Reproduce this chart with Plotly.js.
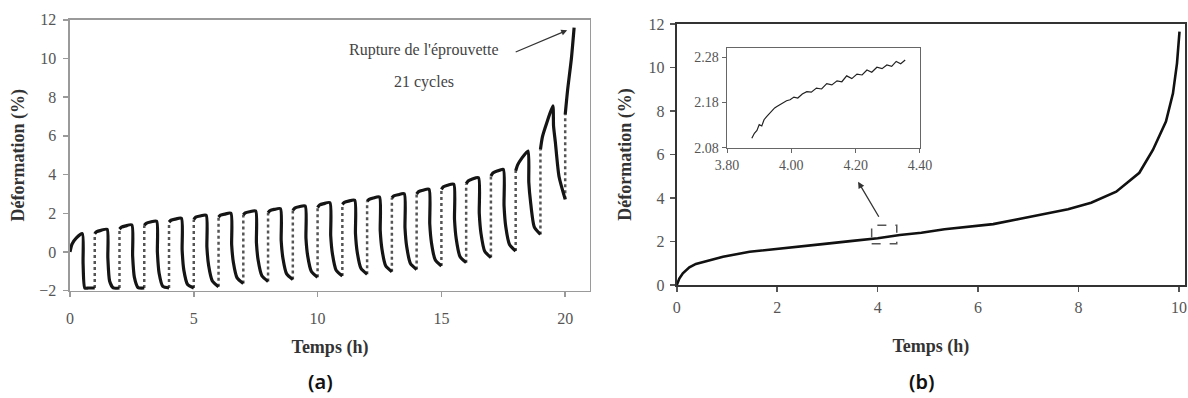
<!DOCTYPE html>
<html>
<head>
<meta charset="utf-8">
<script src="https://cdn.plot.ly/plotly-3.0.1.min.js"></script>
<style>html,body{margin:0;padding:0;background:#fff;}#chart{width:1188px;height:398px;}</style>
</head>
<body>
<div id="chart"></div>
<script>
// ---------- Panel (a): cyclic creep, 21 cycles ----------
// value right after the instantaneous load jump at t = k
const cycleLoadStart = [0.00, 0.95, 1.18, 1.38, 1.54, 1.68, 1.80, 1.92, 2.03, 2.15, 2.30, 2.46, 2.62, 2.80, 3.00, 3.24, 3.52, 3.93, 4.19, 5.30, 7.10];
// value shortly after loading (t = k + 0.08)
const cycleLoadA = [0.40, 1.05, 1.28, 1.48, 1.64, 1.80, 1.90, 2.02, 2.14, 2.27, 2.43, 2.56, 2.72, 2.90, 3.12, 3.37, 3.67, 4.08, 4.50, 5.95, 8.40];
// value mid-load (t = k + 0.25)
const cycleLoadB = [0.72, 1.12, 1.35, 1.55, 1.70, 1.86, 1.96, 2.08, 2.20, 2.34, 2.50, 2.63, 2.79, 2.96, 3.19, 3.45, 3.77, 4.18, 4.85, 6.65, 10.00];
// value at the end of loading (peak)
const cyclePeak = [0.95, 1.17, 1.40, 1.59, 1.74, 1.90, 2.00, 2.12, 2.24, 2.38, 2.55, 2.67, 2.84, 3.01, 3.24, 3.50, 3.84, 4.27, 5.22, 7.55, 11.60];
// unloading (recovery) readings, cycles 0..19
const cycleDropA = [-0.60, -0.30, -0.20, 0.00, 0.10, 0.25, 0.37, 0.48, 0.59, 0.72, 0.84, 0.95, 1.10, 1.25, 1.46, 1.68, 2.00, 2.40, 3.60, 6.50];
const cycleDropB = [-1.86, -1.50, -1.30, -1.10, -0.95, -0.70, -0.54, -0.43, -0.32, -0.20, -0.10, 0.00, 0.14, 0.27, 0.47, 0.67, 0.95, 1.30, 2.60, 5.70];
const cycleDropC = [-1.86, -1.86, -1.84, -1.78, -1.68, -1.50, -1.34, -1.23, -1.13, -1.01, -0.94, -0.84, -0.71, -0.59, -0.40, -0.23, 0.04, 0.39, 1.30, 3.90];
const cycleTrough = [-1.86, -1.86, -1.86, -1.86, -1.86, -1.80, -1.63, -1.52, -1.42, -1.31, -1.24, -1.15, -1.02, -0.90, -0.72, -0.55, -0.29, 0.05, 0.91, 2.72];
// time offsets (h) within a cycle
const loadOffsets = [0, 0.08, 0.25, 0.5];
const finalLoadOffsets = [0, 0.1, 0.25, 0.36];
const unloadOffsets = [0.53, 0.6, 0.75, 1.0];

// ---------- Panel (b): creep curve ----------
const creepTime = [0, 0.05, 0.12, 0.25, 0.38, 0.65, 0.92, 1.45, 2.0, 2.9, 3.5, 4.0, 4.44, 4.87, 5.33, 5.83, 6.3, 6.79, 7.29, 7.79, 8.25, 8.75, 9.21, 9.48, 9.74, 9.88, 9.96, 10.01];
const creepStrain = [0, 0.30, 0.54, 0.81, 0.97, 1.15, 1.30, 1.53, 1.65, 1.88, 2.03, 2.15, 2.30, 2.40, 2.56, 2.68, 2.80, 3.02, 3.26, 3.48, 3.78, 4.29, 5.16, 6.21, 7.51, 8.81, 10.19, 11.65];

// ---------- Inset: zoom of (b) near 4 h ----------
const insetTime = [3.877,3.885,3.893,3.900,3.908,3.915,3.923,3.932,3.940,3.948,3.955,3.965,3.975,3.985,3.996,4.008,4.020,4.034,4.048,4.062,4.078,4.094,4.110,4.126,4.142,4.157,4.172,4.188,4.204,4.220,4.235,4.250,4.266,4.282,4.297,4.312,4.326,4.340,4.354];
const insetStrain = [2.101,2.112,2.118,2.131,2.128,2.142,2.149,2.156,2.161,2.168,2.171,2.176,2.179,2.184,2.186,2.192,2.190,2.199,2.204,2.203,2.212,2.210,2.222,2.219,2.228,2.226,2.239,2.233,2.243,2.241,2.252,2.247,2.258,2.255,2.263,2.260,2.271,2.266,2.274];
const zoomBoxX = [3.88, 4.38];
const zoomBoxY = [1.9, 2.75];

// tick labels
const ticksA_x = [0, 5, 10, 15, 20];
const ticksA_y = [-2, 0, 2, 4, 6, 8, 10, 12];
const ticksB_x = [0, 2, 4, 6, 8, 10];
const ticksB_y = [0, 2, 4, 6, 8, 10, 12];
const ticksInset_x = [3.80, 4.00, 4.20, 4.40];
const ticksInset_y = [2.08, 2.18, 2.28];

// ---------- build panel (a) series ----------
const solidX = [], solidY = [], jumpX = [], jumpY = [];
for (let k = 0; k < cyclePeak.length; k++) {
  const offs = (k === cyclePeak.length - 1) ? finalLoadOffsets : loadOffsets;
  const loadVals = [cycleLoadStart[k], cycleLoadA[k], cycleLoadB[k], cyclePeak[k]];
  for (let i = 0; i < 4; i++) { solidX.push(k + offs[i]); solidY.push(loadVals[i]); }
  if (k < cycleTrough.length) {
    const unVals = [cycleDropA[k], cycleDropB[k], cycleDropC[k], cycleTrough[k]];
    for (let i = 0; i < 4; i++) { solidX.push(k + unloadOffsets[i]); solidY.push(unVals[i]); }
  }
  solidX.push(null); solidY.push(null);
  if (k >= 1) {
    jumpX.push(k, k, null);
    jumpY.push(cycleTrough[k - 1], cycleLoadStart[k], null);
  }
}

const serif = 'Liberation Serif, Times New Roman, serif';
const tickFont = {family: serif, size: 16, color: '#555'};
const titleFont = {family: serif, size: 18, color: '#333'};

const traces = [
  {x: jumpX, y: jumpY, xaxis: 'x', yaxis: 'y', mode: 'lines', line: {color: '#555', width: 2.5, dash: 'dot'}, hoverinfo: 'skip'},
  {x: solidX, y: solidY, xaxis: 'x', yaxis: 'y', mode: 'lines', line: {color: '#151515', width: 3.2, shape: 'spline', smoothing: 0.6}},
  {x: creepTime, y: creepStrain, xaxis: 'x2', yaxis: 'y2', mode: 'lines', line: {color: '#111', width: 2.6}},
  {x: insetTime, y: insetStrain, xaxis: 'x3', yaxis: 'y3', mode: 'lines', line: {color: '#222', width: 1.2}}
];

const layout = {
  width: 1188, height: 398,
  margin: {l: 0, r: 0, t: 0, b: 0},
  paper_bgcolor: '#fff', plot_bgcolor: 'rgba(0,0,0,0)',
  showlegend: false,
  xaxis: {
    anchor: 'y', domain: [0.0589, 0.4966], range: [0, 21], tickvals: ticksA_x,
    showline: true, linecolor: '#9a9a9a', linewidth: 1.5, mirror: true,
    ticks: 'outside', ticklen: 5, tickcolor: '#9a9a9a', tickwidth: 1.5,
    showgrid: false, zeroline: false, tickfont: tickFont, ticklabelstandoff: 8,
    title: {text: '<b>Temps (h)</b>', font: titleFont, standoff: 14}, automargin: false
  },
  yaxis: {
    anchor: 'x', domain: [0.2696, 0.9503], range: [-2, 12], tickvals: ticksA_y,
    showline: true, linecolor: '#9a9a9a', linewidth: 1.5, mirror: true,
    ticks: 'outside', ticklen: 5, tickcolor: '#9a9a9a', tickwidth: 1.5,
    showgrid: false, zeroline: false, tickfont: tickFont, ticklabelstandoff: 4,
    title: {text: '<b>Déformation (%)</b>', font: titleFont, standoff: 10}, automargin: false
  },
  xaxis2: {
    anchor: 'y2', domain: [0.5697, 0.9975], range: [0, 10.12], tickvals: ticksB_x,
    showline: true, linecolor: '#333', linewidth: 2.2, mirror: true,
    ticks: 'outside', ticklen: 5, tickcolor: '#555', tickwidth: 1.5,
    showgrid: false, zeroline: false, tickfont: tickFont, ticklabelstandoff: 2,
    title: {text: '<b>Temps (h)</b>', font: titleFont, standoff: 24}, automargin: false
  },
  yaxis2: {
    anchor: 'x2', domain: [0.2839, 0.9397], range: [0, 12], tickvals: ticksB_y,
    showline: true, linecolor: '#333', linewidth: 2.2, mirror: true,
    ticks: 'outside', ticklen: 5, tickcolor: '#555', tickwidth: 1.5,
    showgrid: false, zeroline: false, tickfont: tickFont, ticklabelstandoff: 2,
    title: {text: '<b>Déformation (%)</b>', font: titleFont, standoff: 12}, automargin: false
  },
  xaxis3: {
    anchor: 'y3', domain: [0.6120, 0.7744], range: [3.80, 4.40], tickvals: ticksInset_x, tickformat: '.2f',
    showline: true, linecolor: '#666', linewidth: 1.5, mirror: true,
    ticks: 'outside', ticklen: 4, tickcolor: '#666',
    showgrid: false, zeroline: false, tickfont: {family: serif, size: 14, color: '#555'}, automargin: false
  },
  yaxis3: {
    anchor: 'x3', domain: [0.6289, 0.8786], range: [2.08, 2.30], tickvals: ticksInset_y, tickformat: '.2f',
    showline: true, linecolor: '#666', linewidth: 1.5, mirror: true,
    ticks: 'outside', ticklen: 4, tickcolor: '#666',
    showgrid: false, zeroline: false, tickfont: {family: serif, size: 14, color: '#555'}, automargin: false
  },
  shapes: [
    {type: 'rect', xref: 'x2', yref: 'y2', x0: zoomBoxX[0], x1: zoomBoxX[1], y0: zoomBoxY[0], y1: zoomBoxY[1],
     line: {color: '#555', width: 1.5, dash: 'dash'}, fillcolor: 'rgba(0,0,0,0)'}
  ],
  annotations: [
    {xref: 'x', yref: 'y', x: 14.3, y: 10.44, text: "Rupture de l'éprouvette", showarrow: false,
     font: {family: serif, size: 16, color: '#444'}},
    {xref: 'x', yref: 'y', x: 14.3, y: 8.8, text: '21 cycles', showarrow: false,
     font: {family: serif, size: 16, color: '#444'}},
    {xref: 'x', yref: 'y', x: 20.08, y: 11.46, axref: 'x', ayref: 'y', ax: 17.94, ay: 10.3, text: '',
     showarrow: true, arrowhead: 2, arrowsize: 1, arrowwidth: 1.2, arrowcolor: '#333'},
    {xref: 'x2', yref: 'y2', x: 3.61, y: 4.75, axref: 'x2', ayref: 'y2', ax: 4.04, ay: 3.07, text: '',
     showarrow: true, arrowhead: 2, arrowsize: 1, arrowwidth: 1.3, arrowcolor: '#333'},
    {xref: 'paper', yref: 'paper', x: 0.2694, y: 0.0427, xanchor: 'center', yanchor: 'middle', text: '(a)', showarrow: false,
     font: {family: 'Noto Sans, DejaVu Sans, sans-serif', size: 20, color: '#111', weight: 600}},
    {xref: 'paper', yref: 'paper', x: 0.776, y: 0.0427, xanchor: 'center', yanchor: 'middle', text: '(b)', showarrow: false,
     font: {family: 'Noto Sans, DejaVu Sans, sans-serif', size: 20, color: '#111', weight: 600}}
  ]
};

Plotly.newPlot('chart', traces, layout, {displayModeBar: false, staticPlot: true});
</script>
</body>
</html>
